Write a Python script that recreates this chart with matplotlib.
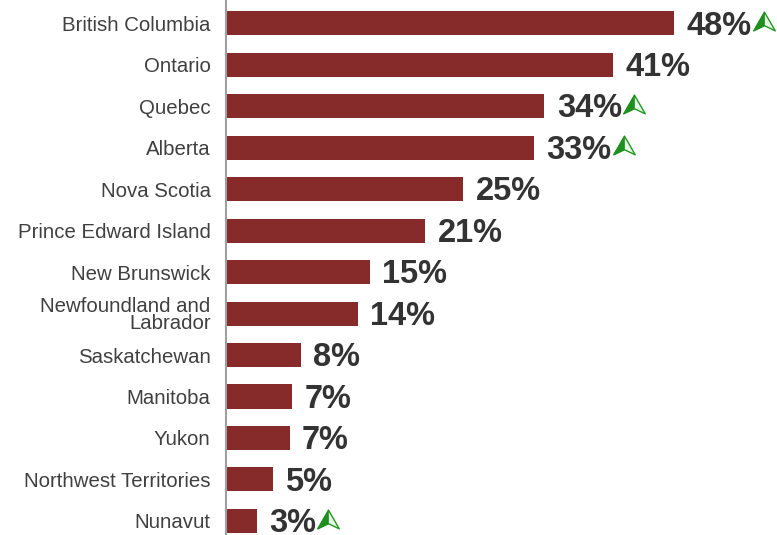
import numpy as np
import matplotlib.pyplot as plt
from matplotlib.path import Path

plt.rcParams['font.family'] = ['Liberation Sans', 'DejaVu Sans']

# datos
provincias = ['British Columbia', 'Ontario', 'Quebec', 'Alberta', 'Nova Scotia',
              'Prince Edward Island', 'New Brunswick', 'Newfoundland and\nLabrador',
              'Saskatchewan', 'Manitoba', 'Yukon', 'Northwest Territories', 'Nunavut']
valores = [48, 41.4, 34.1, 33, 25.4, 21.3, 15.4, 14.1, 8, 7.1, 6.8, 5, 3.3]
etiquetas = ['48%', '41%', '34%', '33%', '25%', '21%', '15%', '14%', '8%', '7%', '7%', '5%', '3%']
flecha = [True, False, True, True, False, False, False, False, False, False, False, False, True]

color_barra = '#862B29'
color_texto = '#404040'

fig = plt.figure(figsize=(7.77, 5.35), dpi=100)
ax = fig.add_axes([226 / 777, 0, 1 - 226 / 777, 1])

y = np.arange(len(provincias))
ax.barh(y, valores, height=0.58, color=color_barra)
ax.set_xlim(0, 59)
ax.set_ylim(12.34, -0.56)

ax.set_yticks(y)
ax.set_yticklabels(provincias, fontsize=14.7, color=color_texto, linespacing=0.92)
ax.tick_params(axis='y', length=0, pad=11)
ax.set_xticks([])
for lado in ['top', 'right', 'bottom']:
    ax.spines[lado].set_visible(False)
ax.spines['left'].set_color('#a0a0a0')
ax.spines['left'].set_linewidth(1.5)

# etiquetas de valores
textos = []
for i, (v, t) in enumerate(zip(valores, etiquetas)):
    txt = ax.annotate(t, (v, i), xytext=(9, -2), textcoords='offset points',
                      va='center', ha='left', fontsize=23.5, fontweight='bold', color='#333333')
    textos.append(txt)

# flechas verdes junto a algunas etiquetas
mitad_izq = Path([(0, 1), (-1.15, -1), (0, -0.45), (0, 1)],
                 [Path.MOVETO, Path.LINETO, Path.LINETO, Path.CLOSEPOLY])
contorno = Path([(0, 1), (-1.15, -1), (0, -0.45), (1.15, -1), (0, 1)],
                [Path.MOVETO, Path.LINETO, Path.LINETO, Path.LINETO, Path.CLOSEPOLY])

fig.canvas.draw()
renderer = fig.canvas.get_renderer()
for i, txt in enumerate(textos):
    if not flecha[i]:
        continue
    bb = txt.get_window_extent(renderer)
    px = bb.x1 + 12
    py = (bb.y0 + bb.y1) / 2 + 5
    xd, yd = ax.transData.inverted().transform((px, py))
    ax.plot(xd, yd, marker=contorno, markersize=15.5, markerfacecolor='#e8f5e8',
            markeredgecolor='#1f9a1f', markeredgewidth=1, clip_on=False)
    ax.plot(xd, yd, marker=mitad_izq, markersize=15.5, markerfacecolor='#1f8f1f',
            markeredgecolor='#1f8f1f', markeredgewidth=0.5, clip_on=False)

plt.savefig('out.png', dpi=100)
